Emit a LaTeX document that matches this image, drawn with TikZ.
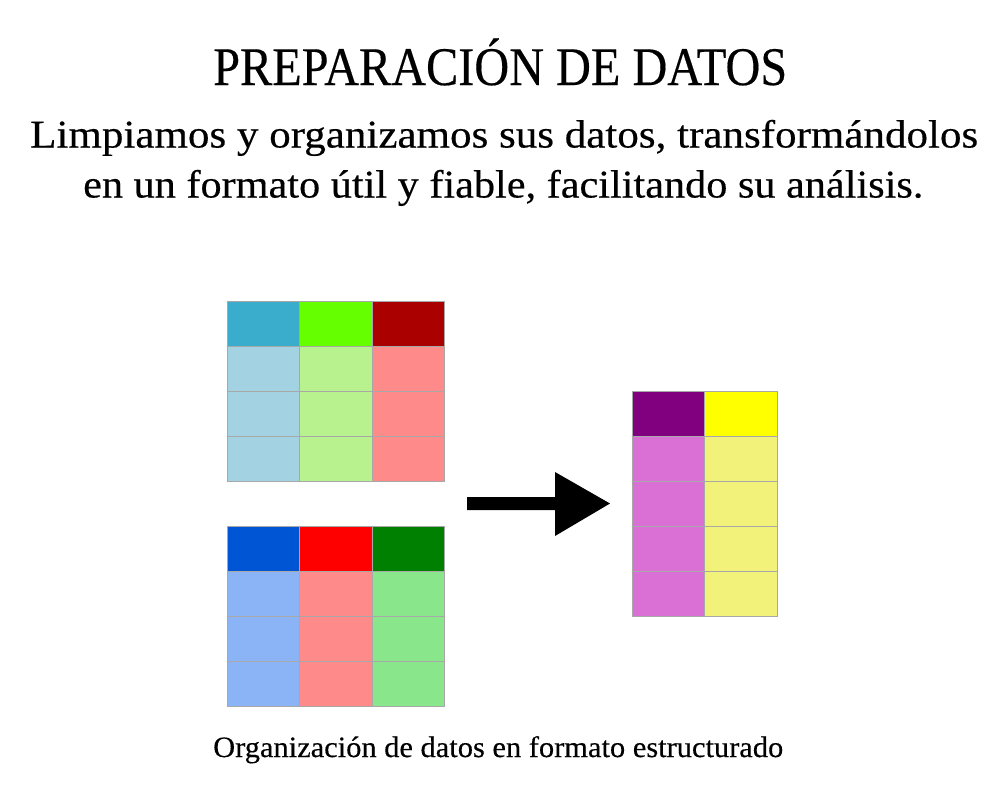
\documentclass[tikz,border=0pt]{standalone}
\usepackage{fontspec}
\setmainfont[FakeBold=0.35]{Liberation Serif}
\usepackage{graphicx}
\definecolor{hA}{HTML}{3AACCC}
\definecolor{hB}{HTML}{66FF00}
\definecolor{hC}{HTML}{AA0000}
\definecolor{bA}{HTML}{A3D3E2}
\definecolor{bB}{HTML}{B7F28F}
\definecolor{bC}{HTML}{FF8A8A}
\definecolor{hD}{HTML}{0055D4}
\definecolor{hE}{HTML}{FF0000}
\definecolor{hF}{HTML}{008000}
\definecolor{bD}{HTML}{8AB4F5}
\definecolor{bE}{HTML}{FF8A8A}
\definecolor{bF}{HTML}{8AE68A}
\definecolor{hG}{HTML}{800080}
\definecolor{hH}{HTML}{FFFF00}
\definecolor{bG}{HTML}{DA70D6}
\definecolor{bH}{HTML}{F2F27A}
\definecolor{gridgray}{HTML}{A8A8A8}
\tikzset{
  cell/.style={minimum height=45pt, inner sep=0pt, outer sep=0pt, anchor=north west},
  cellborder/.style={draw=gridgray, line width=1pt},
  txt/.style={anchor=base west, inner sep=0pt, text=black}
}
\begin{document}
\begin{tikzpicture}[x=1pt,y=-1pt]
\useasboundingbox (0,0) rectangle (1000,784);
\fill[white] (0,0) rectangle (1000,784);
% texts
\node[txt] (title) at (213,85) {\resizebox{574pt}{\height}{\fontsize{54.4}{60}\selectfont PREPARACIÓN DE DATOS}};
\node[txt] (sub1) at (30,147.5) {\resizebox{948pt}{\height}{\fontsize{39.3}{46}\selectfont Limpiamos y organizamos sus datos, transformándolos}};
\node[txt] (sub2) at (83,197.5) {\resizebox{840pt}{\height}{\fontsize{39.3}{46}\selectfont en un formato útil y fiable, facilitando su análisis.}};
\node[txt] (cap) at (213,757) {\resizebox{570pt}{\height}{\fontsize{29.6}{34}\selectfont Organización de datos en formato estructurado}};
% table 1
\foreach \c/\hc/\bc/\x/\w in {A/hA/bA/227.5/72,B/hB/bB/299.5/73,C/hC/bC/372.5/72}{
  \node[cell, minimum width=\w pt, fill=\hc] (t1\c0) at (\x,301.5) {};
  \foreach \r in {1,2,3}{
    \node[cell, minimum width=\w pt, fill=\bc] (t1\c\r) at (\x,301.5+45*\r) {};
  }
}
% table 2
\foreach \c/\hc/\bc/\x/\w in {D/hD/bD/227.5/72,E/hE/bE/299.5/73,F/hF/bF/372.5/72}{
  \node[cell, minimum width=\w pt, fill=\hc] (t2\c0) at (\x,526.5) {};
  \foreach \r in {1,2,3}{
    \node[cell, minimum width=\w pt, fill=\bc] (t2\c\r) at (\x,526.5+45*\r) {};
  }
}
% table 3
\foreach \c/\hc/\bc/\x/\w in {G/hG/bG/632.5/72,H/hH/bH/704.5/73}{
  \node[cell, minimum width=\w pt, fill=\hc] (t3\c0) at (\x,391.5) {};
  \foreach \r in {1,2,3,4}{
    \node[cell, minimum width=\w pt, fill=\bc] (t3\c\r) at (\x,391.5+45*\r) {};
  }
}
% grid lines on top of all fills
\foreach \t/\c in {t1/A,t1/B,t1/C,t2/D,t2/E,t2/F}{
  \foreach \r in {0,1,2,3}{
    \draw[cellborder] (\t\c\r.north west) rectangle (\t\c\r.south east);
  }
}
\foreach \c in {G,H}{
  \foreach \r in {0,1,2,3,4}{
    \draw[cellborder] (t3\c\r.north west) rectangle (t3\c\r.south east);
  }
}
% arrow
\coordinate (arrtail) at (467,503.5);
\coordinate (arrtip) at (610,503.5);
\fill[black] (467,497) -- (555,497) -- (555,472) -- (arrtip) -- (555,536) -- (555,510) -- (467,510) -- cycle;
\end{tikzpicture}
\end{document}
